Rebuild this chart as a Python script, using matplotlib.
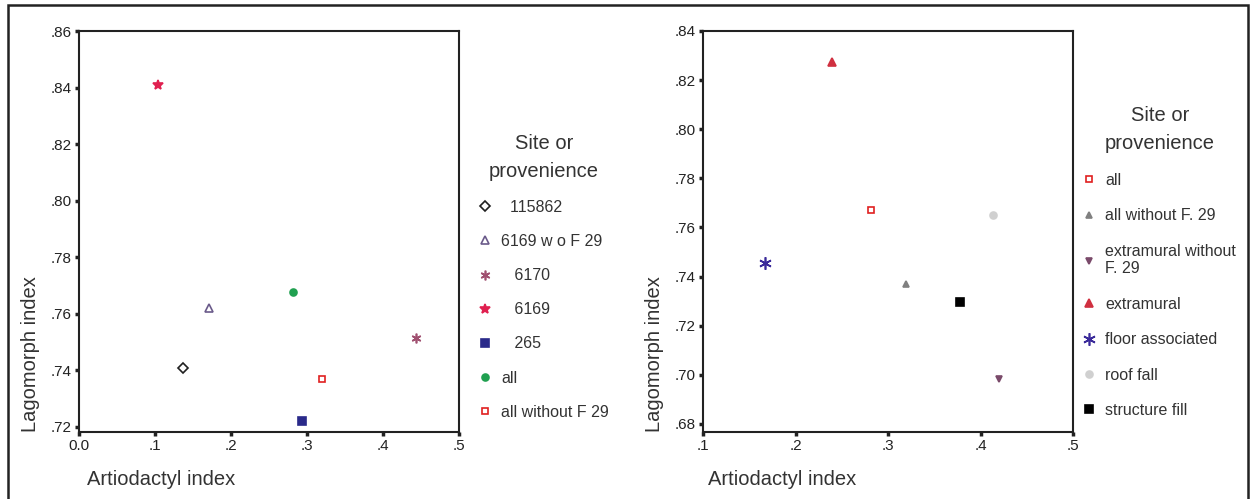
import matplotlib.pyplot as plt
from matplotlib.patches import Rectangle

plt.rcParams['font.family'] = ['Liberation Sans', 'DejaVu Sans']

# left panel: sites
left_labels = ['  115862', '6169 w o F 29', '   6170', '   6169', '   265', 'all', 'all without F 29']
left_x = [0.137, 0.171, 0.443, 0.104, 0.294, 0.282, 0.320]
left_y = [0.741, 0.762, 0.7515, 0.841, 0.722, 0.7677, 0.737]
left_markers = ['D', '^', (6, 2, 0), '*', 's', 'o', 's']
left_colors = ['#202020', '#6a5a8a', '#a05070', '#e02050', '#2a2a8a', '#20a050', '#e02020']
left_filled = [False, False, True, True, True, True, False]
left_sizes = [5, 6, 7, 7, 6, 5, 5]

# right panel: provenience
right_labels = ['all', 'all without F. 29', 'extramural without\nF. 29', 'extramural',
                'floor associated', 'roof fall', 'structure fill']
right_x = [0.2813, 0.3195, 0.420, 0.2395, 0.167, 0.4135, 0.378]
right_y = [0.7671, 0.737, 0.6983, 0.8274, 0.7455, 0.765, 0.7297]
right_markers = ['s', '^', 'v', '^', (6, 2, 0), 'o', 's']
right_colors = ['#e02020', '#808080', '#7a4a6a', '#d03040', '#3a2a9a', '#d0d0d0', '#000000']
right_filled = [False, True, True, True, True, True, True]
right_sizes = [5, 5, 5, 6, 9, 5, 6]

fig = plt.figure(figsize=(12.51, 4.99), dpi=100)
W, H = 1251, 499


def panel(rect, xs, ys, labels, markers, colors, filled, sizes,
          xlim, ylim, xticks, xtl, yticks, ytl, leg_x, leg_y, leg_gap, xlab_x):
    ax = fig.add_axes([rect[0] / W, 1 - rect[3] / H, (rect[2] - rect[0]) / W, (rect[3] - rect[1]) / H])
    handles = []
    for x, y, lab, m, c, f, s in zip(xs, ys, labels, markers, colors, filled, sizes):
        h, = ax.plot([x], [y], linestyle='none', marker=m, markersize=s,
                     markeredgecolor=c, markerfacecolor=c if f else 'white',
                     markeredgewidth=1.2, label=lab)
        handles.append(h)
    ax.set_xlim(*xlim)
    ax.set_ylim(*ylim)
    ax.set_xticks(xticks)
    ax.set_xticklabels(xtl)
    ax.set_yticks(yticks)
    ax.set_yticklabels(ytl)
    ax.tick_params(direction='out', length=3, width=2.5, labelsize=11, colors='#222222', pad=2)
    for sp in ax.spines.values():
        sp.set_linewidth(1.5)
        sp.set_color('#222222')
    ax.set_xlabel('Artiodactyl index', loc='left', fontsize=14.5, color='#333333', labelpad=12)
    ax.xaxis.label.set_x(xlab_x)
    ax.set_ylabel('Lagomorph index', loc='bottom', fontsize=14.5, color='#333333', labelpad=8)
    leg = ax.legend(handles=handles, loc='upper left', bbox_to_anchor=(leg_x, leg_y),
                    frameon=False, fontsize=11.5, title='Site or\nprovenience',
                    title_fontsize=14.5, labelspacing=leg_gap, handlelength=0.8,
                    handletextpad=0.6, borderaxespad=0)
    leg.get_title().set_color('#333333')
    leg.get_title().set_linespacing(1.6)
    leg.get_title().set_multialignment('center')
    for t in leg.get_texts():
        t.set_color('#333333')
    return ax


panel((79, 31, 459, 432), left_x, left_y, left_labels, left_markers, left_colors,
      left_filled, left_sizes, (0, 0.5), (0.7182, 0.86),
      [0, 0.1, 0.2, 0.3, 0.4, 0.5], ['0.0', '.1', '.2', '.3', '.4', '.5'],
      [0.72, 0.74, 0.76, 0.78, 0.80, 0.82, 0.84, 0.86],
      ['.72', '.74', '.76', '.78', '.80', '.82', '.84', '.86'],
      1.035, 0.76, 1.2, 0.02)

panel((703, 31, 1073, 432), right_x, right_y, right_labels, right_markers, right_colors,
      right_filled, right_sizes, (0.1, 0.5), (0.6767, 0.84),
      [0.1, 0.2, 0.3, 0.4, 0.5], ['.1', '.2', '.3', '.4', '.5'],
      [0.68, 0.70, 0.72, 0.74, 0.76, 0.78, 0.80, 0.82, 0.84],
      ['.68', '.70', '.72', '.74', '.76', '.78', '.80', '.82', '.84'],
      1.01, 0.83, 1.28, 0.014)

fig.patches.append(Rectangle((8 / W, -0.01), 1240 / W, 1 - 5 / H + 0.01, transform=fig.transFigure,
                             fill=False, edgecolor='#222222', linewidth=1.8))

fig.savefig('out.png', dpi=100)
